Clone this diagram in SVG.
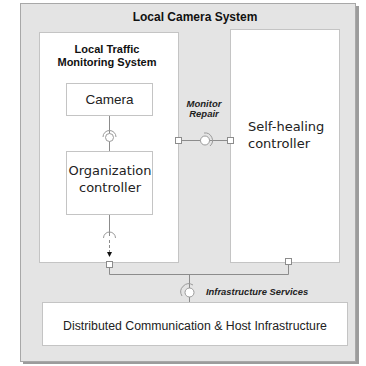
<svg xmlns="http://www.w3.org/2000/svg" width="366" height="366" viewBox="0 0 366 366">
  <style>
    .frame { fill: #e4e4e4; stroke: #a8a8a8; stroke-width: 1; }
    .shadow { fill: #9c9c9c; }
    .box { fill: #ffffff; stroke: #c4c4c4; stroke-width: 1; }
    .wire { fill: none; stroke: #8c8c8c; stroke-width: 1; }
    .port { fill: #ffffff; stroke: #8c8c8c; stroke-width: 1; }
    .ball { fill: #ffffff; stroke: #9a9a9a; stroke-width: 1; }
    .socket { fill: none; stroke: #9a9a9a; stroke-width: 1; }
    .head { fill: #111; }
    .hdr { font-family: "Liberation Sans", Arial, sans-serif; font-weight: bold; fill: #111; text-anchor: middle; }
    .iface { font-family: "Liberation Sans", Arial, sans-serif; font-weight: bold; font-style: italic; fill: #222; }
    .sans { font-family: "Liberation Sans", Arial, sans-serif; fill: #222; }
    .comp { font-family: "DejaVu Sans", Verdana, sans-serif; fill: #222; }
  </style>

  <!-- outer container with drop shadow -->
  <g id="local-camera-system">
    <rect class="shadow" x="23" y="6" width="336" height="358"/>
    <rect class="frame" x="20.5" y="3.5" width="335" height="358"/>
    <text class="hdr" x="195" y="21" font-size="12">Local Camera System</text>
  </g>

  <g id="local-traffic-monitoring-system">
    <rect class="box" x="39.5" y="32.5" width="139" height="230"/>
    <text class="hdr" x="107" y="53" font-size="11">Local Traffic</text>
    <text class="hdr" x="107" y="66" font-size="11">Monitoring System</text>
  </g>

  <g id="self-healing-controller">
    <rect class="box" x="230.5" y="29.5" width="109" height="233"/>
    <text class="comp" x="248" y="131" font-size="13">Self-healing</text>
    <text class="comp" x="248" y="148" font-size="13">controller</text>
  </g>

  <g id="camera">
    <rect class="box" x="66.5" y="83.5" width="86" height="32"/>
    <text class="sans" x="109.5" y="104" font-size="13.5" text-anchor="middle">Camera</text>
  </g>

  <g id="organization-controller">
    <rect class="box" x="66.5" y="151.5" width="86" height="63"/>
    <text class="comp" x="110" y="175" font-size="13" text-anchor="middle">Organization</text>
    <text class="comp" x="110" y="192" font-size="13" text-anchor="middle">controller</text>
  </g>

  <g id="distributed-infrastructure">
    <rect class="box" x="42.5" y="302.5" width="305" height="43"/>
    <text class="sans" x="195" y="330" font-size="12.3" text-anchor="middle">Distributed Communication &amp; Host Infrastructure</text>
  </g>

  <g id="connectors">
    <!-- camera to organization controller -->
    <line class="wire" x1="109.5" y1="116" x2="109.5" y2="151"/>
    <path class="socket" d="M103,137 A6.5,6.5 0 0 1 116,137"/>
    <circle class="ball" cx="109.5" cy="137.5" r="4"/>

    <!-- organization controller down to its port -->
    <line class="wire" x1="109.5" y1="215" x2="109.5" y2="236"/>
    <path class="socket" d="M103.5,238 A6,6 0 0 1 115.5,238"/>
    <line class="wire" x1="109.5" y1="240" x2="109.5" y2="252" stroke-dasharray="3,2"/>
    <polygon class="head" points="107,252 112,252 109.5,257"/>

    <!-- monitor / repair between the two systems -->
    <line class="wire" x1="181" y1="140.5" x2="227" y2="140.5"/>
    <circle class="ball" cx="205" cy="140.5" r="4.5"/>
    <path class="socket" d="M204,133 A7.5,7.5 0 0 1 210,146"/>
    <rect class="port" x="175.5" y="137.5" width="6" height="6"/>
    <rect class="port" x="227.5" y="137.5" width="6" height="6"/>
    <text class="iface" x="204" y="107" font-size="9.5" text-anchor="middle">Monitor</text>
    <text class="iface" x="204" y="117" font-size="9.5" text-anchor="middle">Repair</text>

    <!-- infrastructure services bus -->
    <polyline class="wire" points="109.5,268 109.5,274.5 288.5,274.5 288.5,265"/>
    <line class="wire" x1="189.5" y1="274.5" x2="189.5" y2="302"/>
    <circle class="ball" cx="189.5" cy="292.5" r="4.5"/>
    <path class="socket" d="M182,296 A8,8 0 0 1 193,285"/>
    <rect class="port" x="106.5" y="261.5" width="6" height="6"/>
    <rect class="port" x="285.5" y="258.5" width="6" height="6"/>
    <text class="iface" x="206" y="295" font-size="9.4">Infrastructure Services</text>
  </g>
</svg>
